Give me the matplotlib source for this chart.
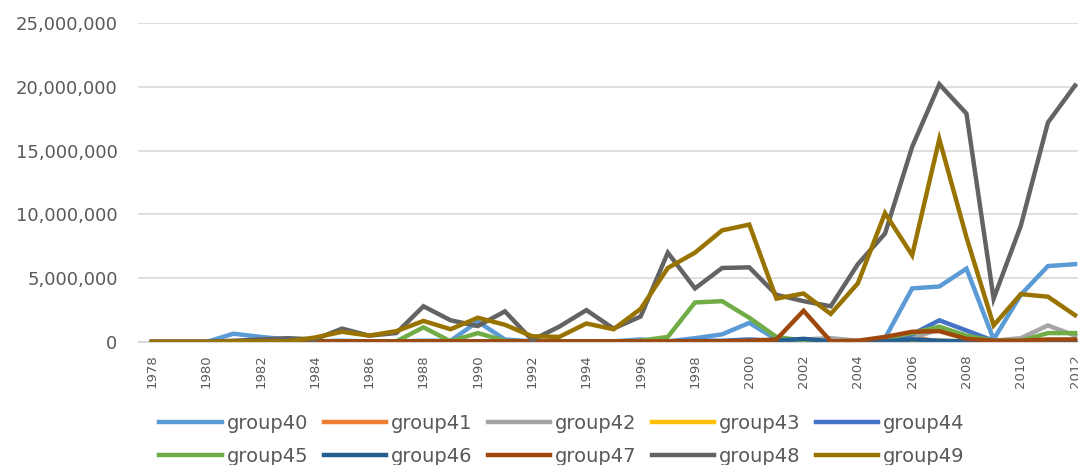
import numpy as np
import matplotlib as mpl
mpl.use('Agg')
import matplotlib.pyplot as plt
from matplotlib.ticker import FuncFormatter

mpl.rcParams['font.family'] = 'DejaVu Sans'

years = list(range(1978, 2013))

# values in millions
group40 = [0, 0, 0, 0.65, 0.4, 0.2, 0.05, 0.1, 0.05, 0.05, 0.1, 0.1, 1.6, 0.2, 0.05, 0.05, 0.05, 0.05,
           0.2, 0.05, 0.3, 0.6, 1.5, 0.2, 0.05, 0.05, 0.05, 0.3, 4.2, 4.35, 5.75, 0.2, 3.7, 5.95, 6.1]
group41 = [0, 0, 0, 0, 0, 0, 0, 0, 0, 0, 0, 0, 0, 0, 0, 0, 0, 0,
           0, 0, 0, 0, 0, 0, 0, 0, 0, 0.05, 0.35, 0.05, 0, 0, 0, 0.05, 0.05]
group42 = [0, 0, 0, 0, 0, 0, 0, 0, 0, 0, 0, 0, 0, 0, 0, 0, 0, 0,
           0, 0, 0.05, 0.05, 0.1, 0.1, 0.2, 0.3, 0.1, 0.1, 0.3, 1.0, 0.3, 0.1, 0.3, 1.3, 0.5]
group43 = [0, 0, 0, 0, 0, 0, 0, 0, 0, 0, 0, 0, 0, 0, 0, 0, 0, 0,
           0, 0, 0, 0, 0, 0, 0, 0, 0, 0, 0.05, 0.1, 0.05, 0, 0, 0, 0]
group44 = [0, 0, 0, 0, 0, 0, 0, 0, 0, 0, 0, 0, 0.05, 0.05, 0, 0, 0, 0,
           0.05, 0.05, 0.1, 0.1, 0.2, 0.1, 0.1, 0.05, 0.05, 0.1, 0.6, 1.7, 0.9, 0.1, 0.05, 0.05, 0.05]
group45 = [0, 0, 0, 0, 0, 0, 0, 0, 0, 0.05, 1.15, 0.05, 0.7, 0.1, 0, 0, 0, 0,
           0.1, 0.4, 3.1, 3.2, 1.9, 0.4, 0.1, 0, 0.05, 0.3, 0.7, 1.2, 0.5, 0.1, 0.1, 0.7, 0.7]
group46 = [0, 0, 0, 0, 0, 0, 0, 0, 0, 0, 0, 0, 0, 0, 0, 0, 0, 0,
           0, 0, 0.05, 0.05, 0.05, 0.1, 0.25, 0.05, 0.05, 0.05, 0.2, 0.1, 0.05, 0, 0, 0, 0]
group47 = [0, 0, 0, 0, 0, 0, 0.05, 0.05, 0.05, 0.05, 0.05, 0.05, 0.05, 0.05, 0.05, 0.05, 0.05, 0.05,
           0.05, 0.05, 0.05, 0.05, 0.1, 0.2, 2.45, 0.05, 0.1, 0.4, 0.8, 0.85, 0.25, 0.1, 0.1, 0.2, 0.2]
group48 = [0, 0, 0, 0.1, 0.2, 0.3, 0.2, 1.05, 0.5, 0.7, 2.8, 1.7, 1.25, 2.4, 0.15, 1.2, 2.5, 1.05,
           2.0, 7.0, 4.2, 5.8, 5.85, 3.7, 3.2, 2.8, 6.1, 8.5, 15.3, 20.2, 17.9, 3.4, 9.1, 17.2, 20.1]
group49 = [0, 0, 0, 0.05, 0.05, 0.05, 0.35, 0.8, 0.5, 0.85, 1.65, 1.0, 1.9, 1.35, 0.45, 0.4, 1.45, 1.0,
           2.6, 5.8, 7.0, 8.75, 9.2, 3.4, 3.8, 2.2, 4.6, 10.1, 6.8, 15.9, 8.2, 1.3, 3.75, 3.55, 2.1]

names = ['group40', 'group41', 'group42', 'group43', 'group44',
         'group45', 'group46', 'group47', 'group48', 'group49']
series = [group40, group41, group42, group43, group44,
          group45, group46, group47, group48, group49]
colors = ['#5B9BD5', '#ED7D31', '#A5A5A5', '#FFC000', '#4472C4',
          '#70AD47', '#255E91', '#9E480E', '#636363', '#997300']

W, H = 1078, 465
fig = plt.figure(figsize=(W / 100, H / 100), dpi=100)
# axes runs past the right edge, like the cropped original
ax = fig.add_axes([138.4 / W, 1 - 342 / H, 977.4 / W, 319 / H])

lines = []
for name, vals, c in zip(names, series, colors):
    ln, = ax.plot(years, np.array(vals) * 1e6, color=c, lw=3.2, label=name,
                  solid_joinstyle='miter', clip_on=True)
    lines.append(ln)

ax.set_xlim(1977.5, 2013.5)
ax.set_ylim(0, 25e6)
ax.set_yticks(np.arange(0, 25e6 + 1, 5e6))
ax.yaxis.set_major_formatter(FuncFormatter(lambda v, p: f'{v:,.0f}'))
ax.set_xticks(years[::2])
ax.set_xticklabels([str(y) for y in years[::2]], rotation=90)

ax.grid(axis='y', color='#D9D9D9', lw=1.2)
ax.set_axisbelow(True)
for s in ['top', 'right', 'left']:
    ax.spines[s].set_visible(False)
ax.spines['bottom'].set_color('#D9D9D9')
ax.tick_params(axis='y', length=0, pad=15, labelsize=13, labelcolor='#595959')
ax.tick_params(axis='x', length=0, pad=9, labelsize=9.5, labelcolor='#595959')

# legend filled row by row (matplotlib fills by column)
order = [0, 5, 1, 6, 2, 7, 3, 8, 4, 9]
fig.legend([lines[i] for i in order], [names[i] for i in order],
           ncol=5, loc='center', bbox_to_anchor=(562 / W, 1 - 440 / H),
           frameon=False, fontsize=14, handlelength=3.2, handletextpad=0.25,
           columnspacing=0.8, labelspacing=0.7, labelcolor='#595959')

plt.savefig('out.png', dpi=100)
